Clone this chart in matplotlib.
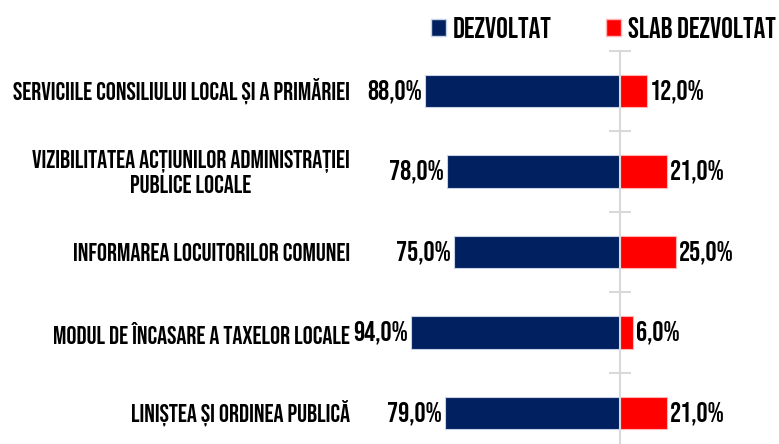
import matplotlib
matplotlib.use('Agg')
import matplotlib.pyplot as plt
from matplotlib.patches import Patch

categorii = ['SERVICIILE CONSILIULUI LOCAL ȘI A PRIMĂRIEI',
             'VIZIBILITATEA ACȚIUNILOR ADMINISTRAȚIEI\nPUBLICE LOCALE',
             'INFORMAREA LOCUITORILOR COMUNEI',
             'MODUL DE ÎNCASARE A TAXELOR LOCALE',
             'LINIȘTEA ȘI ORDINEA PUBLICĂ']
dezvoltat = [88.0, 78.0, 75.0, 94.0, 79.0]
slab_dezvoltat = [12.0, 21.0, 25.0, 6.0, 21.0]
serii = ['DEZVOLTAT', 'SLAB DEZVOLTAT']

plt.rcParams['font.family'] = ['Bebas Neue', 'DejaVu Sans']

albastru = '#002060'
rosu = '#FF0000'

W, H = 779, 444
fig = plt.figure(figsize=(W / 100, H / 100), dpi=100)
ax = fig.add_axes([0, 0, 1, 1])

# scara: px per procent, centrul la x=620 px
s = 2.22
cx = 620
ax.set_xlim(-cx / s, (W - cx) / s)
pas = 80.5
ax.set_ylim((H - 91) / pas, -91 / pas)

y = list(range(len(categorii)))
stg = [-v for v in dezvoltat]
ax.barh(y, stg, height=0.4, color=albastru, edgecolor='#C9D3E8', linewidth=0.8, zorder=2)
ax.barh(y, slab_dezvoltat, height=0.4, color=rosu, edgecolor='#FFB3B3', linewidth=0.8, zorder=2)

for i in y:
    ax.text(stg[i] - 1.3, i, f'{dezvoltat[i]:.1f}%'.replace('.', ','), ha='right', va='center',
            fontsize=20, color='black')
    ax.text(slab_dezvoltat[i] + 1.3, i, f'{slab_dezvoltat[i]:.1f}%'.replace('.', ','), ha='left',
            va='center', fontsize=20, color='black')
    ax.text(350 / W, i, categorii[i], transform=ax.get_yaxis_transform(), ha='right', va='center',
            multialignment='center', fontsize=18, color='black', linespacing=1.12)

# axa verticala cu marcaje intre categorii
for sp in ['top', 'right', 'bottom']:
    ax.spines[sp].set_visible(False)
ax.spines['left'].set_position(('data', 0))
ax.spines['left'].set_color('#D9D9D9')
ax.spines['left'].set_linewidth(1.5)
ax.spines['left'].set_bounds(-0.5, (H - 91) / pas)
ax.spines['left'].set_zorder(3)
ax.set_yticks([i - 0.5 for i in range(len(categorii))])
ax.set_yticklabels([])
ax.tick_params(axis='y', direction='inout', length=16, width=1.5, color='#D9D9D9')
ax.set_xticks([])

handles = [Patch(facecolor=albastru, edgecolor='#C9D3E8', label=serii[0]),
           Patch(facecolor=rosu, edgecolor='#FFB3B3', label=serii[1])]
fig.legend(handles=handles, ncol=2, loc='center right', bbox_to_anchor=(776 / W, 1 - 27 / H),
           frameon=False, fontsize=21, handlelength=0.52, handleheight=0.52,
           handletextpad=0.24, columnspacing=1.86, borderpad=0, borderaxespad=0)

fig.savefig('out.png', dpi=100)
